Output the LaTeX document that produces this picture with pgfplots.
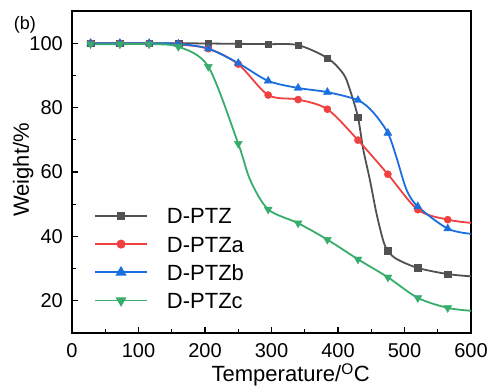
\documentclass[border=0pt]{standalone}
\usepackage{fontspec}
\setmainfont{Liberation Sans}
\usepackage{pgfplots}
\pgfplotsset{compat=1.18}
\definecolor{cblack}{HTML}{515151}
\definecolor{cred}{HTML}{F14040}
\definecolor{cblue}{HTML}{1A6FDF}
\definecolor{cgreen}{HTML}{37AD6B}
\begin{document}
\begin{tikzpicture}
\useasboundingbox (0,0) rectangle (494pt,388pt);
\begin{axis}[
  at={(72pt,55pt)}, anchor=south west,
  scale only axis, width=399pt, height=322pt,
  xmin=0, xmax=600, ymin=10, ymax=110,
  xtick={0,100,...,600}, ytick={20,40,...,100},
  minor x tick num=1, minor y tick num=1,
  tick align=inside, xtick pos=bottom, ytick pos=left,
  major tick length=6pt, minor tick length=3.7pt,
  axis line style={line width=1.2pt, black},
  every tick/.style={line width=1.2pt, black},
  /pgf/number format/assume math mode=true,
  tick label style={font=\fontsize{20}{24}\selectfont},
  xticklabel style={inner sep=0pt, yshift=-10pt, anchor=north},
  yticklabel style={inner sep=0pt, xshift=-9pt, anchor=east},
  every axis x label/.style={at={(axis description cs:0.548,-0.151)}, anchor=base},
  every axis y label/.style={at={(axis description cs:-0.1078,0.5065)}, rotate=90, anchor=base},
  label style={font=\fontsize{22}{26}\selectfont},
  xlabel={Temperature/\textsuperscript{O}C},
  ylabel={Weight/\%},
  clip=false,
  legend style={draw=none, fill=none, inner sep=0pt, at={(0.055,0.3888)}, anchor=north west,
    font=\fontsize{22}{26}\selectfont,
    nodes={inner sep=0pt, text height=15.8pt, text depth=0pt},
    row sep=12.4pt, column sep=19pt},
  legend cell align=left,
  legend image code/.code={\draw[mark repeat=2,mark phase=2,#1] plot coordinates {(0pt,0pt) (26pt,0pt) (52pt,0pt)};},
]
% lines
\addplot[forget plot, cblack, line width=1.8pt, smooth, tension=0.5] coordinates {
(28,100) (72,100) (116,100) (160,100) (205,99.9) (250,99.8) (295,99.7) (340,99.4) (384,95.4)
(408,90.5) (418,85.5) (430,77.0) (438,67) (448,57.5) (458,47) (468,38.7) (475,35.5) (488,33.0)
(520,30.2) (565,28.3) (600,27.6)};
\addplot[forget plot, cred, line width=1.8pt, smooth, tension=0.5] coordinates {
(28,100) (72,100) (116,99.9) (160,99.6) (205,98.3) (250,93.5) (295,83.9) (340,82.5) (384,79.5)
(430,69.9) (475,59.3) (520,48.3) (565,45.2) (600,44.2)};
\addplot[forget plot, cblue, line width=1.8pt, smooth, tension=0.5] coordinates {
(28,100) (72,100) (116,100) (160,99.8) (205,98.3) (250,93.8) (295,88.3) (340,86.1) (384,84.8)
(430,82.3) (453,78.5) (475,72.1) (488,64.5) (503,54.5) (520,49.3) (565,42.4) (600,40.8)};
\addplot[forget plot, cgreen, line width=1.8pt, smooth, tension=0.5] coordinates {
(28,99.7) (72,99.7) (116,99.7) (160,98.9) (205,92.7) (250,68.8) (268,57.5) (295,48.4) (340,44.1)
(384,39.0) (430,32.9) (475,27.3) (520,20.9) (565,17.8) (600,16.9)};
% markers
\addplot[forget plot, only marks, cblack, mark=square*, mark size=3.3pt] coordinates {
(28,100) (72,100) (116,100) (160,100) (205,99.9) (250,99.8) (295,99.7) (340,99.4) (384,95.4)
(430,77.0) (475,35.5) (520,30.2) (565,28.3)};
\addplot[forget plot, only marks, cred, mark=*, mark size=3.6pt] coordinates {
(28,100) (72,100) (116,99.9) (160,99.6) (205,98.3) (250,93.5) (295,83.9) (340,82.5) (384,79.5)
(430,69.9) (475,59.3) (520,48.3) (565,45.2)};
\addplot[forget plot, only marks, cblue, mark=triangle*, mark size=4.6pt] coordinates {
(28,100) (72,100) (116,100) (160,99.8) (205,98.3) (250,93.8) (295,88.3) (340,86.1) (384,84.8)
(430,82.3) (475,72.1) (520,49.3) (565,42.4)};
\addplot[forget plot, only marks, cgreen, mark=triangle*, mark size=4.6pt, mark options={rotate=180}] coordinates {
(28,99.7) (72,99.7) (116,99.7) (160,98.9) (205,92.7) (250,68.8) (295,48.4) (340,44.1)
(384,39.0) (430,32.9) (475,27.3) (520,20.9) (565,17.8)};
\addlegendimage{cblack, line width=1.8pt, mark=square*, mark size=3.3pt}
\addlegendentry{D-PTZ}
\addlegendimage{cred, line width=1.8pt, mark=*, mark size=3.6pt}
\addlegendentry{D-PTZa}
\addlegendimage{cblue, line width=1.8pt, mark=triangle*, mark size=4.6pt}
\addlegendentry{D-PTZb}
\addlegendimage{cgreen, line width=1.8pt, mark=triangle*, mark size=4.6pt, mark options={rotate=180}}
\addlegendentry{D-PTZc}
\node[font=\fontsize{18}{22}\selectfont, anchor=center] at (axis description cs:-0.118,0.9565) {(b)};
\end{axis}
\end{tikzpicture}
\end{document}
